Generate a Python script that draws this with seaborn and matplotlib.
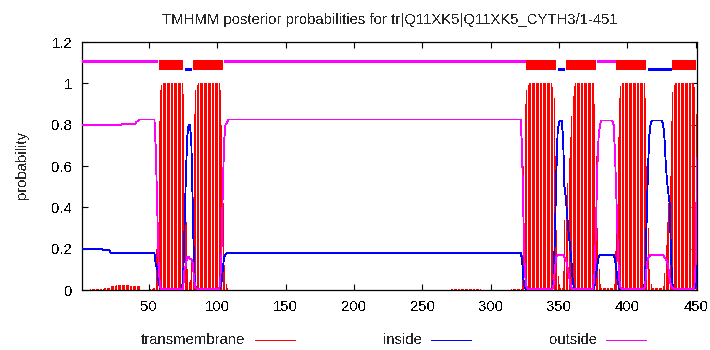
import numpy as np
import pandas as pd
import matplotlib
matplotlib.use("Agg")
import matplotlib.pyplot as plt
import seaborn as sns
from matplotlib.lines import Line2D

# ---------------- data ----------------
title = "TMHMM posterior probabilities for tr|Q11XK5|Q11XK5_CYTH3/1-451"
seq_len = 451
x_ticks = [50, 100, 150, 200, 250, 300, 350, 400, 450]
x_tick_labels = ["50", "100", "150", "200", "250", "300", "350", "400", "450"]
y_ticks = [0, 0.2, 0.4, 0.6, 0.8, 1.0, 1.2]
y_tick_labels = ["0", "0.2", "0.4", "0.6", "0.8", "1", "1.2"]
series_names = ["transmembrane", "inside", "outside"]
series_colors = ["#ff0000", "#0000ff", "#ff00ff"]

# per-residue posterior probabilities (residues 1..451)
tm_prob = ([0.0]*6 + [0.003]*5 + [0.006]*5 + [0.01]*5 + [0.018]*4 + [0.024]*10 + [0.018]*8
           + [0.0]*7 + [0.003]*2 + [0.01]*2
           + [0.2, 0.47, 0.82, 0.97, 0.99] + [1.0]*15
           + [0.95, 0.6, 0.33, 0.1, 0.04, 0.05, 0.13, 0.45, 0.85, 0.97, 0.99] + [1.0]*16
           + [0.97, 0.8, 0.42, 0.12, 0.03, 0.01] + [0.0]*163 + [0.004]*22 + [0.0]*22 + [0.004]*8
           + [0.17, 0.6, 0.9, 0.97, 0.99] + [1.0]*17
           + [0.98, 0.93, 0.65, 0.29, 0.07, 0.02, 0.01, 0.01, 0.09, 0.34, 0.4, 0.52, 0.64,
              0.74, 0.84, 0.94, 0.985] + [1.0]*14
           + [0.9, 0.65, 0.3, 0.1, 0.03] + [0.01]*9 + [0.03, 0.19, 0.45, 0.74, 0.93, 0.985] + [1.0]*17
           + [0.93, 0.6, 0.3, 0.1, 0.03] + [0.01]*8
           + [0.02, 0.08, 0.22, 0.33, 0.42, 0.55, 0.82, 0.96, 0.99] + [1.0]*14
           + [0.98, 0.85, 0.22])

inside_prob = ([0.2]*15 + [0.195]*6 + [0.18]*33
               + [0.12, 0.11, 0.04, 0.01] + [0.005]*16
               + [0.05, 0.3, 0.55, 0.74, 0.8, 0.8, 0.72, 0.42, 0.1, 0.02] + [0.005]*17
               + [0.01, 0.03, 0.1, 0.16, 0.17] + [0.18]*216
               + [0.15, 0.05, 0.01] + [0.005]*20
               + [0.05, 0.25, 0.55, 0.76, 0.81, 0.82, 0.82, 0.74, 0.5, 0.45, 0.36, 0.28, 0.22,
                  0.15, 0.05, 0.01] + [0.005]*14
               + [0.02, 0.07, 0.12, 0.16] + [0.17]*11 + [0.15, 0.1, 0.04, 0.01] + [0.005]*18
               + [0.05, 0.3, 0.55, 0.74, 0.8] + [0.82]*8
               + [0.81, 0.76, 0.63, 0.53, 0.47, 0.42, 0.16, 0.03] + [0.005]*16
               + [0.02, 0.14])

outside_prob = ([0.8]*30 + [0.805]*10 + [0.815]*2 + [0.825]*12
                + [0.68, 0.42, 0.14, 0.02] + [0.005]*17
                + [0.1, 0.12, 0.16, 0.16, 0.15, 0.15, 0.13, 0.05, 0.01] + [0.005]*17
                + [0.02, 0.17, 0.48, 0.72, 0.8, 0.81] + [0.825]*215
                + [0.68, 0.35, 0.09, 0.02] + [0.005]*19
                + [0.02, 0.1, 0.16] + [0.17]*5 + [0.16, 0.15, 0.12, 0.08, 0.04, 0.01] + [0.005]*16
                + [0.08, 0.28, 0.58, 0.74, 0.8] + [0.82]*9 + [0.8, 0.66, 0.45, 0.22, 0.06, 0.01]
                + [0.005]*17
                + [0.02, 0.1, 0.15, 0.16] + [0.17]*10 + [0.16, 0.15, 0.14, 0.11, 0.05, 0.02, 0.01]
                + [0.005]*16
                + [0.13, 0.64])

# predicted topology segments
topo_start = [1, 57, 76, 82, 105, 326, 349, 355, 378, 392, 415, 433]
topo_end = [56, 75, 81, 104, 325, 348, 354, 377, 391, 414, 432, 450]
topo_kind = ["outside", "TM", "inside", "TM", "outside", "TM", "inside", "TM",
             "outside", "TM", "inside", "TM"]

assert len(tm_prob) == seq_len and len(inside_prob) == seq_len and len(outside_prob) == seq_len

# ---------------- plot ----------------
sns.set_style("white")
plt.rcParams["font.family"] = ["Liberation Sans", "DejaVu Sans"]
plt.rcParams["text.antialiased"] = False
FS = 10.7

W, H = 710, 350
fig = plt.figure(figsize=(W / 100, H / 100), dpi=100)
L, R, T, B = 82, 697, 42, 290
ax = fig.add_axes([L / W, 1 - B / H, (R - L) / W, (B - T) / H])

positions = np.arange(1, seq_len + 1)
df = pd.DataFrame({"position": positions, "transmembrane": tm_prob,
                   "inside": inside_prob, "outside": outside_prob})
long_df = df.melt(id_vars="position", value_vars=["inside", "outside"],
                  var_name="series", value_name="probability")

# transmembrane impulses
ax.vlines(df["position"], 0, df["transmembrane"], colors=series_colors[0],
          linewidth=0.5, antialiased=False, zorder=2)

sns.lineplot(data=long_df, x="position", y="probability", hue="series",
             hue_order=["inside", "outside"],
             palette={"inside": series_colors[1], "outside": series_colors[2]},
             estimator=None, sort=False, linewidth=0.6, legend=False, ax=ax, zorder=3,
             antialiased=False)

# topology bar
topo_df = pd.DataFrame({"start": topo_start, "end": topo_end, "kind": topo_kind})
levels = {"outside": 1.11, "TM": 1.089, "inside": 1.068}
widths = {"outside": 1.8, "TM": 7.2, "inside": 2.0}
kcolors = {"outside": series_colors[2], "TM": series_colors[0], "inside": series_colors[1]}
for kind in ["outside", "inside", "TM"]:
    sub = topo_df[topo_df["kind"] == kind]
    ax.hlines([levels[kind]] * len(sub), sub["start"], sub["end"], colors=kcolors[kind],
              linewidth=widths[kind], capstyle="butt", zorder=4, antialiased=False)

ax.set_xlim(1, seq_len)
ax.set_ylim(0, 1.2)
ax.set_xticks(x_ticks)
ax.set_xticklabels(x_tick_labels)
ax.set_yticks(y_ticks)
ax.set_yticklabels(y_tick_labels)
ax.set_xlabel("")
ax.set_ylabel("")
ax.tick_params(axis="both", direction="in", length=4, width=0.8, colors="black",
               labelsize=FS, top=True, right=True, bottom=True, left=True)
ax.tick_params(axis="x", pad=7)
ax.tick_params(axis="y", pad=7)
for s in ax.spines.values():
    s.set_color("black")
    s.set_linewidth(0.9)
    s.set_visible(True)

fig.text((L + R) / 2 / W, 1 - 20 / H, title, ha="center", va="center", fontsize=FS)
fig.text(22.5 / W, 1 - 165 / H, "probability", ha="center", va="center",
         rotation=90, fontsize=FS)

# key below the plot: right-justified text followed by a sample line
key_text_right = [245.5, 421.5, 597]
key_line_start = [255, 430.5, 606]
key_line_end = [295, 471, 646]
key_y = 1 - 340 / H
for name, col, xr, x0, x1 in zip(series_names, series_colors, key_text_right,
                                 key_line_start, key_line_end):
    fig.text(xr / W, key_y, name, ha="right", va="center", fontsize=FS)
    fig.add_artist(Line2D([x0 / W, x1 / W], [key_y, key_y], transform=fig.transFigure,
                          color=col, linewidth=0.6, antialiased=False))

fig.savefig("out.png", dpi=100)
